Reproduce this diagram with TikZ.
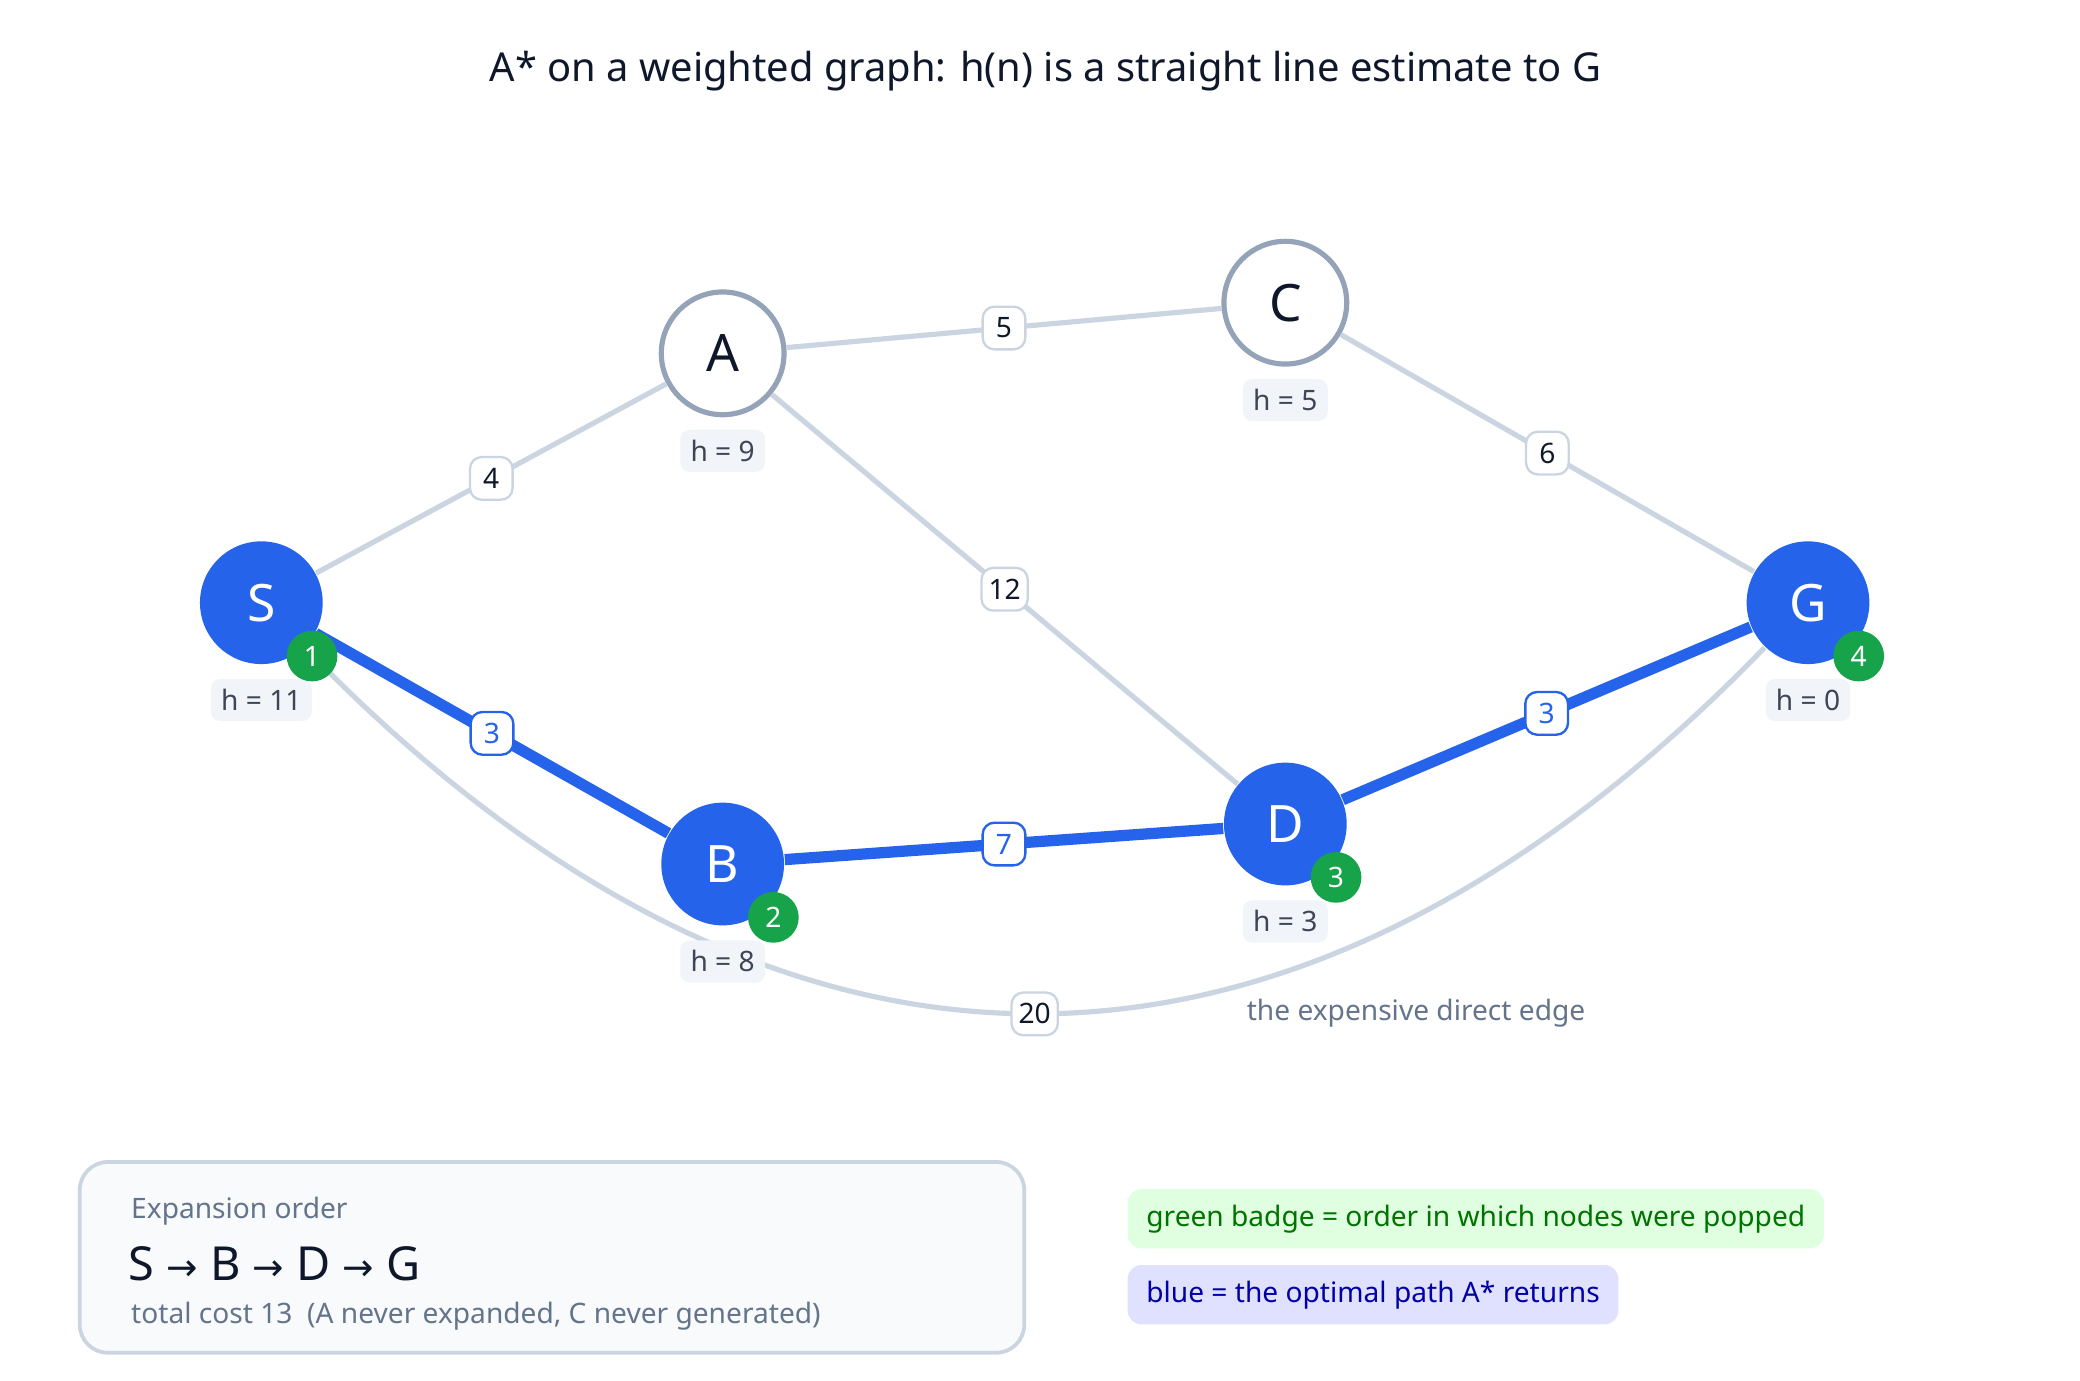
\documentclass[tikz,border=0pt]{standalone}
\usepackage{fontspec}
\setmainfont{Noto Sans}
\newfontfamily\symfont{DejaVu Sans}
\definecolor{ink}{HTML}{0F172A}
\definecolor{edgegray}{HTML}{CBD5E1}
\definecolor{ringgray}{HTML}{94A3B8}
\definecolor{pathblue}{HTML}{2563EB}
\definecolor{badgegreen}{HTML}{16A34A}
\definecolor{hfill}{HTML}{F1F5F9}
\definecolor{mutedtxt}{HTML}{64748B}
\tikzset{
  vtx/.style={circle,minimum size=0.92cm,inner sep=0pt,font=\bfseries\fontsize{11}{11}\selectfont},
  openv/.style={vtx,draw=ringgray,line width=1.1pt,fill=white,text=ink},
  donev/.style={vtx,fill=pathblue,text=white},
  badge/.style={circle,fill=badgegreen,text=white,minimum size=0.38cm,inner sep=0pt,font=\bfseries\fontsize{6}{6}\selectfont},
  hlab/.style={rounded corners=2pt,fill=hfill,text=ink!80,inner sep=2.2pt,minimum height=0.3cm,font=\bfseries\fontsize{6}{6}\selectfont},
  wlab/.style={rounded corners=2.5pt,draw=edgegray,fill=white,text=ink,line width=0.5pt,minimum size=0.32cm,inner sep=1.5pt,font=\bfseries\fontsize{6}{6}\selectfont},
  bwlab/.style={wlab,draw=pathblue,text=pathblue},
  plain/.style={draw=edgegray,line width=1.1pt},
  best/.style={draw=pathblue,line width=2.4pt},
}
\begin{document}
\begin{tikzpicture}[x=0.01cm,y=-0.01cm]
\useasboundingbox[fill=white] (0,0) rectangle (1560,1035);
\node[font=\bfseries\fontsize{8.5}{8.5}\selectfont,text=ink] (title) at (784,53) {A* on a weighted graph: h(n) is a straight line estimate to G};
% vertices
\node[donev] (S) at (196,452) {S};
\node[openv] (A) at (542,265) {A};
\node[openv] (C) at (964,227) {C};
\node[donev] (G) at (1356,452) {G};
\node[donev] (B) at (542,648) {B};
\node[donev] (D) at (964,618) {D};
% edges
\draw[plain] (S) .. controls (583,852) and (969,852) .. (G) node[wlab,pos=0.5] (w20) {20};
\draw[plain] (S) -- (A) node[wlab,pos=0.5] (w4) {4};
\draw[plain] (A) -- (C) node[wlab,pos=0.5] (w5) {5};
\draw[plain] (A) -- (D) node[wlab,pos=0.5] (w12) {12};
\draw[plain] (C) -- (G) node[wlab,pos=0.5] (w6) {6};
\draw[best] (S) -- (B) node[bwlab,pos=0.5] (w3a) {3};
\draw[best] (B) -- (D) node[bwlab,pos=0.5] (w7) {7};
\draw[best] (D) -- (G) node[bwlab,pos=0.5] (w3b) {3};
\node[text=mutedtxt,font=\fontsize{6}{6}\selectfont] (note) at (1062,760) {the expensive direct edge};
% heuristics and badges
\foreach \v/\h in {S/11,A/9,C/5,G/0,B/8,D/3}{\node[hlab] (h\v) at ([yshift=-0.73cm]\v.center) {h = \h};}
\foreach \v/\n in {S/1,B/2,D/3,G/4}{\node[badge] (k\v) at ([xshift=0.38cm,yshift=-0.40cm]\v.center) {\n};}
% expansion box
\node[draw=edgegray,fill=hfill!50,rounded corners=6pt,line width=0.8pt,minimum width=7.08cm,minimum height=1.43cm] (order) at (414,943) {};
\node[anchor=west,text=mutedtxt,font=\bfseries\fontsize{6}{6}\selectfont] (otitle) at (86,908) {Expansion order};
\node[anchor=west,text=ink,font=\bfseries\fontsize{10}{10}\selectfont] (oseq) at (84,948) {S {\symfont\mdseries\fontsize{8}{8}\selectfont→} B {\symfont\mdseries\fontsize{8}{8}\selectfont→} D {\symfont\mdseries\fontsize{8}{8}\selectfont→} G};
\node[anchor=west,text=mutedtxt,font=\fontsize{6}{6}\selectfont] (ocost) at (86,987) {total cost 13\ \ (A never expanded, C never generated)};
% legend
\node[anchor=west,fill=green!12,text=green!45!black,rounded corners=3pt,inner xsep=4pt,minimum height=0.33cm,font=\bfseries\fontsize{6}{6}\selectfont] (lg) at (845,914) {green badge = order in which nodes were popped};
\node[anchor=west,fill=blue!12,text=blue!65!black,rounded corners=3pt,inner xsep=4pt,minimum height=0.33cm,font=\bfseries\fontsize{6}{6}\selectfont] (lb) at (845,971) {blue = the optimal path A* returns};
\end{tikzpicture}
\end{document}
